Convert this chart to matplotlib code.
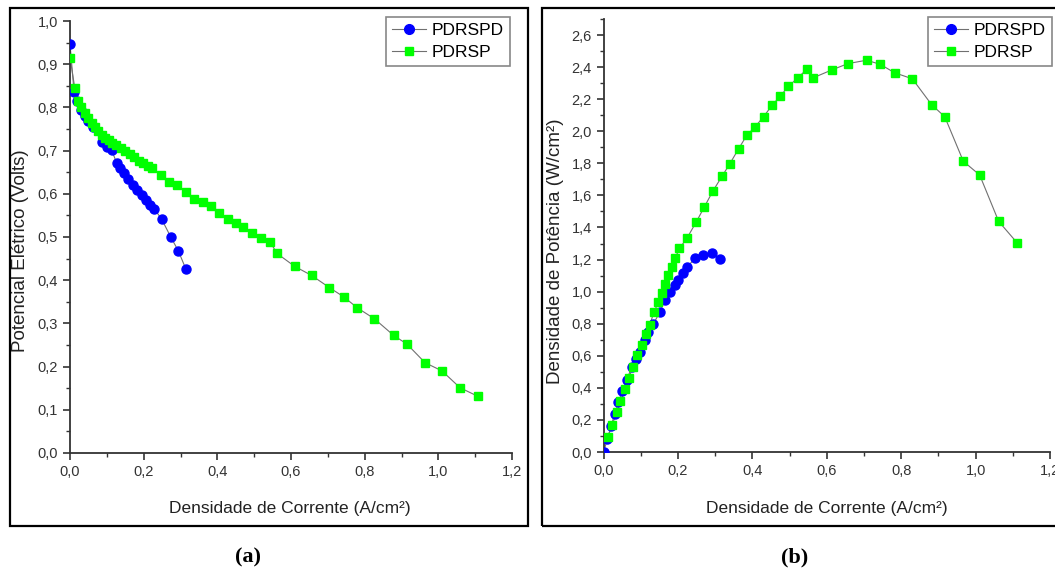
import matplotlib.pyplot as plt
from matplotlib.patches import Rectangle
from matplotlib.ticker import MultipleLocator, FuncFormatter
from matplotlib.lines import Line2D

# (a) potencial x corrente
pd_j = [0.0, 0.011, 0.02, 0.03, 0.04, 0.05, 0.063, 0.086, 0.0996, 0.113, 0.127, 0.136,
        0.147, 0.158, 0.170, 0.183, 0.195, 0.206, 0.217, 0.229, 0.249, 0.273, 0.294, 0.315]
pd_v = [0.947, 0.836, 0.815, 0.795, 0.78, 0.768, 0.755, 0.721, 0.709, 0.701, 0.671, 0.659,
        0.648, 0.634, 0.621, 0.609, 0.597, 0.586, 0.574, 0.565, 0.541, 0.501, 0.468, 0.425]

p_j = [0.0, 0.013, 0.022, 0.029, 0.040, 0.050, 0.059, 0.068, 0.077, 0.086, 0.095, 0.105,
       0.114, 0.126, 0.138, 0.149, 0.163, 0.174, 0.187, 0.199, 0.211, 0.222, 0.248, 0.270,
       0.291, 0.316, 0.337, 0.362, 0.383, 0.404, 0.429, 0.452, 0.470, 0.493, 0.519, 0.543,
       0.562, 0.610, 0.656, 0.704, 0.744, 0.780, 0.826, 0.879, 0.915, 0.964, 1.010, 1.059, 1.108]
p_v = [0.915, 0.845, 0.815, 0.802, 0.786, 0.775, 0.765, 0.755, 0.745, 0.737, 0.729, 0.724,
       0.718, 0.714, 0.707, 0.700, 0.692, 0.685, 0.677, 0.671, 0.664, 0.659, 0.643, 0.628,
       0.620, 0.604, 0.588, 0.581, 0.571, 0.556, 0.541, 0.532, 0.523, 0.510, 0.497, 0.489,
       0.462, 0.432, 0.411, 0.383, 0.361, 0.336, 0.311, 0.272, 0.252, 0.209, 0.190, 0.151, 0.131]

# (b) potencia x corrente
pd_jb = [0.0, 0.01, 0.02, 0.03, 0.04, 0.05, 0.063, 0.075, 0.086, 0.098, 0.111, 0.12, 0.134,
         0.152, 0.165, 0.178, 0.192, 0.201, 0.214, 0.223, 0.246, 0.268, 0.291, 0.313]
pd_w = [0.0, 0.08, 0.16, 0.24, 0.31, 0.38, 0.45, 0.53, 0.58, 0.625, 0.70, 0.75, 0.80,
        0.875, 0.948, 0.999, 1.041, 1.072, 1.114, 1.151, 1.207, 1.228, 1.243, 1.201]

p_jb = [0.011, 0.023, 0.035, 0.045, 0.058, 0.068, 0.079, 0.090, 0.102, 0.113, 0.124, 0.135,
        0.147, 0.156, 0.165, 0.174, 0.183, 0.192, 0.204, 0.224, 0.249, 0.271, 0.294, 0.318,
        0.339, 0.363, 0.385, 0.406, 0.430, 0.454, 0.474, 0.497, 0.522, 0.546, 0.563, 0.613,
        0.657, 0.707, 0.744, 0.782, 0.830, 0.882, 0.917, 0.967, 1.011, 1.062, 1.111]
p_w = [0.091, 0.168, 0.248, 0.316, 0.392, 0.463, 0.533, 0.602, 0.665, 0.733, 0.792, 0.870,
       0.933, 0.990, 1.049, 1.101, 1.154, 1.207, 1.270, 1.333, 1.434, 1.529, 1.628, 1.718,
       1.796, 1.891, 1.975, 2.024, 2.091, 2.165, 2.217, 2.280, 2.333, 2.386, 2.333, 2.382,
       2.422, 2.443, 2.417, 2.365, 2.327, 2.165, 2.091, 1.813, 1.727, 1.438, 1.306]

plt.rcParams['font.family'] = ['Liberation Sans', 'DejaVu Sans']

W, H = 1055, 575
fig = plt.figure(figsize=(W / 100, H / 100), dpi=100)

def box(x0, y0, x1, y1):
    # pixel coords (top-left origin) -> figure fraction
    return [x0 / W, 1 - y1 / H, (x1 - x0) / W, (y1 - y0) / H]

ax1 = fig.add_axes(box(70, 21, 512, 453))
ax2 = fig.add_axes(box(603.6, 19, 1050, 452))

comma = FuncFormatter(lambda v, p: f"{v:.1f}".replace('.', ','))
line_kw = dict(color='#707070', lw=0.8)

for ax in (ax1, ax2):
    for s in ('top', 'right'):
        ax.spines[s].set_visible(False)
    for s in ('left', 'bottom'):
        ax.spines[s].set_linewidth(1.3)
        ax.spines[s].set_color('#333333')
    ax.set_xlim(0, 1.2)
    ax.xaxis.set_major_locator(MultipleLocator(0.2))
    ax.xaxis.set_minor_locator(MultipleLocator(0.1))
    ax.xaxis.set_major_formatter(comma)
    ax.yaxis.set_major_formatter(comma)
    ax.tick_params(which='major', direction='out', length=5, width=1.2, labelsize=10.5,
                   colors='#333333', labelcolor='#333333')
    ax.tick_params(which='minor', direction='out', length=3, width=1.0, colors='#333333')

ax1.set_ylim(0, 1.0)
ax1.yaxis.set_major_locator(MultipleLocator(0.1))
ax1.yaxis.set_minor_locator(MultipleLocator(0.05))
ax2.set_ylim(0, 2.7)
ax2.yaxis.set_major_locator(MultipleLocator(0.2))
ax2.yaxis.set_minor_locator(MultipleLocator(0.1))

ax1.plot(pd_j, pd_v, 'o', ms=6.5, color='#0000ff', zorder=3)
ax1.plot(pd_j, pd_v, **line_kw, zorder=2)
ax1.plot(p_j, p_v, 's', ms=6, color='#00ff00', zorder=4)
ax1.plot(p_j, p_v, **line_kw, zorder=2)

ax2.plot(pd_jb, pd_w, 'o', ms=6.5, color='#0000ff', zorder=3)
ax2.plot(pd_jb, pd_w, **line_kw, zorder=2)
ax2.plot(p_jb, p_w, 's', ms=6, color='#00ff00', zorder=4)
ax2.plot(p_jb, p_w, **line_kw, zorder=2)

handles = [Line2D([], [], color='#707070', lw=0.8, marker='o', ms=7, mfc='#0000ff', mec='#0000ff'),
           Line2D([], [], color='#707070', lw=0.8, marker='s', ms=6, mfc='#00ff00', mec='#00ff00')]
for ax, anchor in ((ax1, (0.995, 1.01)), (ax2, (1.004, 1.005))):
    leg = ax.legend(handles, ['PDRSPD', 'PDRSP'], loc='upper right', bbox_to_anchor=anchor,
                    borderaxespad=0, fontsize=12.5, fancybox=False, handlelength=2.0,
                    handletextpad=0.3, borderpad=0.35, labelspacing=0.4, framealpha=1)
    leg.get_frame().set_edgecolor('#888888')
    leg.get_frame().set_linewidth(1.2)

# axis titles
fig.text(290 / W, 1 - 508 / H, 'Densidade de Corrente (A/cm²)', ha='center', va='center',
         fontsize=12.5, color='#222222')
fig.text(827 / W, 1 - 508 / H, 'Densidade de Corrente (A/cm²)', ha='center', va='center',
         fontsize=12.5, color='#222222')
fig.text(21 / W, 1 - 251 / H, 'Potencial Elétrico (Volts)', ha='center', va='center',
         rotation=90, fontsize=13.5, color='#222222')
fig.text(555 / W, 1 - 251 / H, 'Densidade de Potência (W/cm²)', ha='center', va='center',
         rotation=90, fontsize=13.5, color='#222222')

# panel frames
for x0, x1 in ((9.5, 527.5), (541.5, 1062)):
    fig.add_artist(Rectangle((x0 / W, 1 - 526 / H), (x1 - x0) / W, (526 - 8) / H,
                             transform=fig.transFigure, fill=False, lw=1.6, ec='black'))

fig.text(248 / W, 1 - 557 / H, '(a)', ha='center', va='center', fontsize=16,
         fontweight='bold', family='Liberation Serif')
fig.text(795 / W, 1 - 557 / H, '(b)', ha='center', va='center', fontsize=16,
         fontweight='bold', family='Liberation Serif')

fig.savefig('out.png', dpi=100)
